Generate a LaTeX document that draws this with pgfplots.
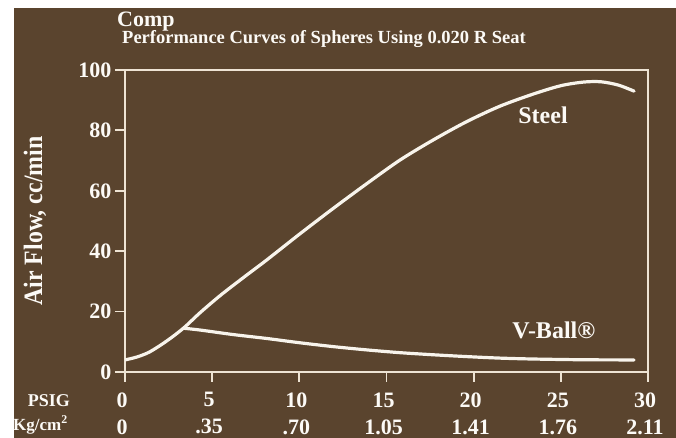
\documentclass[border=0pt]{standalone}
\usepackage{fontspec}
\setmainfont{Liberation Serif}
\newfontfamily\condfont{Liberation Serif}[FakeStretch=0.9]
\usepackage{pgfplots}
\usepackage{pgfplotstable}
\pgfplotsset{compat=1.18}
\definecolor{bg}{RGB}{90,68,46}
\definecolor{cream}{RGB}{238,228,212}
\definecolor{curve}{RGB}{248,244,236}
\definecolor{txt}{RGB}{252,250,246}
\pgfplotstableread{
x y
0 4.0
0.7 5.0
1.43 6.7
2.4 10.3
3.35 14.5
4.3 19.6
5.5 25.5
6.8 31.3
8.13 37.1
10 45.6
11.95 54.2
13.9 62.5
15.78 70.2
17.7 76.9
19.6 82.9
21.5 88.0
23.4 92.0
25.0 94.8
26.3 96.0
27.3 96.1
28.3 95.0
29.2 93.0
}\steel
\pgfplotstableread{
x y
3.35 14.5
4.3 13.9
6.2 12.4
8.13 11.1
10 9.7
11.95 8.4
13.9 7.3
15.78 6.4
17.7 5.7
19.6 5.1
21.5 4.6
23.4 4.3
26.3 4.05
29.2 4.0
}\vball
\begin{document}
\begin{tikzpicture}
\path[use as bounding box] (0,0) rectangle (676bp,438bp);
\fill[white] (0,0) rectangle (676bp,438bp);
\fill[bg] (14bp,0) rectangle (676bp,430bp);
\begin{axis}[
  scale only axis, width=523bp, height=302bp,
  at={(125bp,66bp)}, anchor=south west,
  xmin=0, xmax=30, ymin=0, ymax=100,
  xtick={0,5,...,30},
  xticklabels={{0\\0},{5\\.35},{10\\.70},{15\\1.05},{20\\1.41},{25\\1.76},{30\\2.11}},
  ytick={0,20,...,100},
  yticklabels={0,20,40,60,80,100},
  xtick pos=bottom, ytick pos=left, tick align=outside,
  major tick length=10bp,
  axis line style={cream, line width=1.8bp},
  tick style={cream, line width=1.8bp},
  xticklabel style={font=\fontsize{22bp}{27bp}\selectfont\bfseries, text=txt, align=center, xshift=-3bp, yshift=-7bp},
  yticklabel style={font=\fontsize{22bp}{26bp}\selectfont\bfseries, text=txt},
  ylabel={Air Flow, cc/min},
  ylabel style={at={(axis description cs:-0.1721,0.5)}, anchor=center, font=\condfont\fontsize{26.5bp}{30bp}\selectfont\bfseries, text=txt},
]
\addplot[curve, line width=3.2bp, line cap=round, smooth, tension=0.5] table[x=x,y=y] {\steel};
\addplot[curve, line width=3.2bp, line cap=round, smooth, tension=0.5] table[x=x,y=y] {\vball};
\node[text=txt, font=\fontsize{24bp}{28bp}\selectfont\bfseries] at (axis cs:23.98,85.1) {Steel};
\node[text=txt, font=\fontsize{24bp}{28bp}\selectfont\bfseries] at (axis cs:24.6,13.9) {V-Ball®};
\end{axis}
\node[anchor=base west, inner sep=0, text=txt, font=\fontsize{22bp}{26bp}\selectfont\bfseries] at (117bp,411.5bp) {Comp};
\node[anchor=base west, inner sep=0, text=txt, font=\fontsize{18.5bp}{22bp}\selectfont\bfseries] at (122bp,394bp) {Performance Curves of Spheres Using 0.020 R Seat};
\node[anchor=base east, inner sep=0, text=txt, font=\fontsize{18bp}{22bp}\selectfont\bfseries] at (70bp,32bp) {PSIG};
\node[anchor=base east, inner sep=0, text=txt, font=\fontsize{17bp}{20bp}\selectfont\bfseries] at (68bp,8bp) {Kg/cm\textsuperscript{2}};
\end{tikzpicture}
\end{document}
